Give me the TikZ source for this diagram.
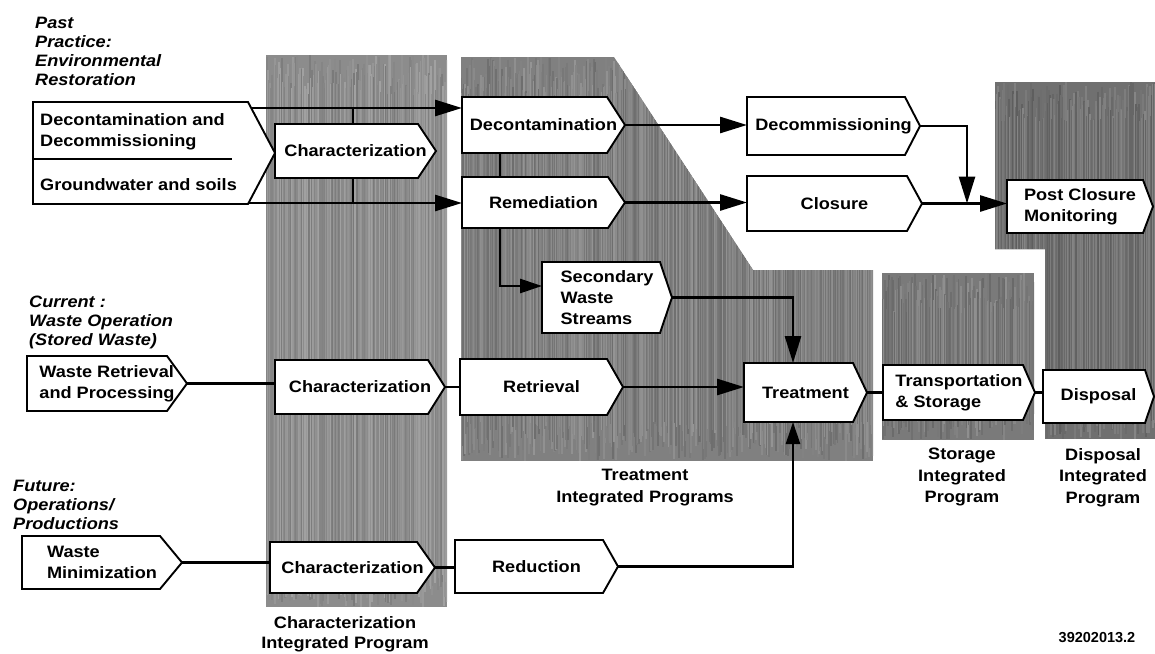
\documentclass[tikz,border=0pt]{standalone}
\usepackage{fontspec}
\setmainfont{Liberation Sans}[FakeStretch=1.1]
\newfontfamily\numfont{Liberation Sans}
\usetikzlibrary{arrows.meta,fit,calc}
\tikzset{
  zone/.style={draw=none},
  boxline/.style={draw=black, line width=1.9pt, fill=white, line join=miter},
  boxtext/.style={font=\bfseries\fontsize{16.5}{21}\selectfont, align=left, inner sep=0pt},
  conn/.style={draw=black, line width=2.7pt},
  thinconn/.style={draw=black, line width=2.1pt},
  arr/.style={conn, -{Triangle[length=27pt,width=16pt]}},
  heading/.style={font=\bfseries\itshape\fontsize{16.5}{19}\selectfont, align=left, inner sep=0pt, anchor=north west},
  prog/.style={font=\bfseries\fontsize{16.5}{21.5}\selectfont, align=center, inner sep=0pt, anchor=north},
}
% #1 name, #2 x1, #3 y1, #4 x2 (body right), #5 y2, #6 tip x, #7 text
\newcommand{\sigbox}[7]{%
  \path (#2,#3) coordinate (#1-nw) (#4,#5) coordinate (#1-se);
  \node[fit=(#1-nw)(#1-se), inner sep=0pt, outer sep=0pt] (#1) {};
  \coordinate (#1-tip) at (#6,{(#3+#5)/2});
  \draw[boxline] (#1.north west) -- (#1.north east) -- (#1-tip) -- (#1.south east) -- (#1.south west) -- cycle;
  \node[boxtext] (#1-text) at ({(#2+#6)/2},{(#3+#5)/2}) {#7};
}
% textured zone: #1 clip path, #2 base gray, #3 x from, #4 x to, #5 y from, #6 y to
\newcommand{\texzone}[6]{%
  \begin{scope}
    \clip #1;
    \fill[black!#2] (#3,#5) rectangle (#4,#6);
    \foreach \xx in {#3,...,#4} {
      \pgfmathsetmacro\gg{int(#2-8+16*rnd)}
      \pgfmathsetmacro\ga{#5+40*rnd}
      \pgfmathsetmacro\gb{#6-40*rnd}
      \draw[black!\gg, line width=1.6pt] (\xx,\ga) -- (\xx,\gb);
    }
  \end{scope}
}
\begin{document}
\begin{tikzpicture}[x=1pt,y=-1pt]
\useasboundingbox (0,0) rectangle (1155,653);
\fill[white] (0,0) rectangle (1155,653);
\pgfmathsetseed{11}

% shaded program zones
\texzone{(266,55) rectangle (447,607)}{45}{266}{447}{55}{607}
\texzone{(461,57) -- (614,57) -- (753,270) -- (873,270) -- (873,461) -- (461,461) -- cycle}{50}{461}{873}{57}{461}
\texzone{(882,273) rectangle (1034,440)}{52}{882}{1034}{273}{440}
\texzone{(995,82) -- (1155,82) -- (1155,439) -- (1045,439) -- (1045,249) -- (995,249) -- cycle}{56}{995}{1155}{82}{439}

% headings
\node[heading] (h1) at (35,17) {Past\\Practice:\\Environmental\\Restoration};
\node[heading] (h2) at (29,296) {Current :\\Waste Operation\\(Stored Waste)};
\node[heading] (h3) at (13,480) {Future:\\Operations/\\Productions};

% boxes
\sigbox{er}{33}{102}{248}{204}{275}{}
\draw[thinconn] (33,159) -- (232,159);
\node[boxtext, anchor=west] (er-t1) at (40,131.5) {Decontamination and\\Decommissioning};
\node[boxtext, anchor=west] (er-t2) at (40,185) {Groundwater and soils};

\sigbox{char1}{275}{124}{418}{178}{436}{Characterization}
\sigbox{dec}{462}{97}{607}{153}{625}{Decontamination}
\sigbox{rem}{462}{177}{608}{228}{625}{Remediation}
\sigbox{decomm}{747}{97}{905}{155}{920}{Decommissioning}
\sigbox{clo}{747}{176}{907}{231}{922}{Closure}
\sigbox{post}{1007}{180}{1143}{233}{1153}{Post Closure\\Monitoring}
\sigbox{sec}{542}{262}{660}{333}{672}{Secondary\\Waste\\Streams}
\sigbox{wr}{27}{356}{167}{411}{187}{Waste Retrieval\\and Processing}
\sigbox{char2}{275}{360}{428}{414}{445}{Characterization}
\sigbox{ret}{460}{359}{607}{415}{623}{Retrieval}
\sigbox{treat}{744}{363}{853}{422}{867}{Treatment}
\sigbox{ts}{883}{365}{1023}{420}{1035}{Transportation\\\& Storage}
\sigbox{disp}{1043}{370}{1145}{423}{1154}{Disposal}
\sigbox{wm}{22}{536}{160}{589}{182}{Waste\\Minimization}
\sigbox{char3}{270}{542}{417}{593}{435}{Characterization}
\sigbox{red}{455}{540}{603}{593}{618}{Reduction}

% helper coordinates
\coordinate (er-o1) at (251,108);
\coordinate (er-o2) at (249,203);
\coordinate (c1x) at (353,0);
\coordinate (dx) at (500,0);
\coordinate (jx) at (967,0);

% connectors
\draw[arr] (er-o1) -- (er-o1 -| dec.west);
\draw[arr] (er-o2) -- (er-o2 -| rem.west);
\draw[thinconn] (c1x |- er-o1) -- (c1x |- char1.north);
\draw[thinconn] (c1x |- char1.south) -- (c1x |- er-o2);
\draw[thinconn] (dx |- dec.south) -- (dx |- rem.north);
\draw[arr] (dec-tip) -- (dec-tip -| decomm.west);
\draw[arr] (rem-tip) -- (rem-tip -| clo.west);
\draw[arr] (decomm-tip) -| (jx |- clo-tip);
\draw[arr] (clo-tip) -- (clo-tip -| post.west);
\draw[arr, -{Triangle[length=22pt,width=14pt]}] (dx |- rem.south) |- ([yshift=11.5pt]sec.west);
\draw[arr] (sec-tip) -| ([xshift=-5.5pt]treat.north);
\draw[arr, -{Triangle[length=22pt,width=14pt]}] (red-tip) -| ([xshift=-5.5pt]treat.south);
\draw[arr] (ret-tip) -- (ret-tip -| treat.west);
\draw[conn] (treat-tip) -- (treat-tip -| ts.west);
\draw[conn] (ts-tip) -- (ts-tip -| disp.west);
\draw[conn] (wr-tip) -- (wr-tip -| char2.west);
\draw[conn] (char2-tip) -- (char2-tip -| ret.west);
\draw[conn] (wm-tip) -- (wm-tip -| char3.west);
\draw[conn] (char3-tip) -- (char3-tip -| red.west);

% program labels
\node[prog, font=\bfseries\fontsize{16.5}{20}\selectfont] (p1) at (345,616) {Characterization\\Integrated Program};
\node[prog] (p2) at (645,469) {Treatment\\Integrated Programs};
\node[prog] (p3) at (962,448) {Storage\\Integrated\\Program};
\node[prog] (p4) at (1103,448) {Disposal\\Integrated\\Program};
\node[font=\numfont\bfseries\fontsize{14.5}{17}\selectfont, inner sep=0pt] (num) at (1097,638) {39202013.2};
\end{tikzpicture}
\end{document}
